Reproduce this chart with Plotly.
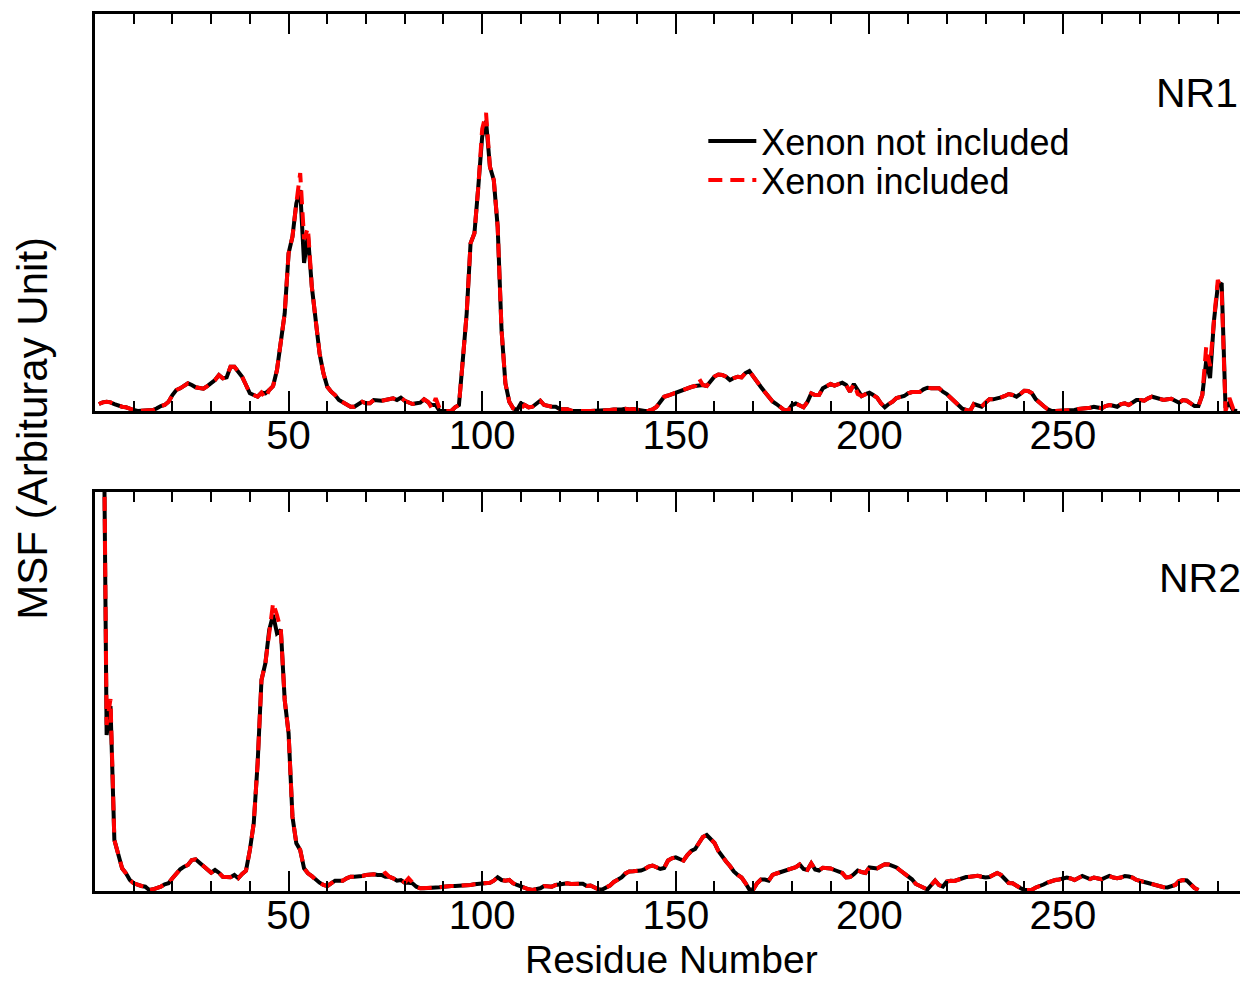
import plotly.graph_objects as go

# ---------------- data (MSF, arbitrary units) ----------------
nr1_residues = list(range(1, 296))
nr1_no_xenon = [
    7, 8.7, 9.3, 8.7, 7, 5.3, 4.3, 3.7, 2, 1,
    0, 0.3, 0, 0, 1, 2.7, 5, 6, 9.3, 16,
    21, 22.7, 25, 27.7, 26, 23.7, 23, 22.3, 25, 28.3,
    31, 36, 32.7, 33.7, 44.3, 44.3, 39.3, 34.3, 26, 17.7,
    16, 14.3, 18.3, 17.7, 21, 25, 41, 71, 97.7, 157.7,
    174.3, 207.7, 221, 148, 176, 124.3, 87.7, 57.7, 37.7, 24.3,
    19.3, 16, 11, 8.7, 6, 4.3, 4.3, 7, 9.3, 7.7,
    7.7, 11, 10.3, 10.3, 11, 12, 12.7, 11, 13.3, 10.3,
    8.3, 7, 7.7, 8.3, 11.7, 9.3, 6, 6, 0, 0,
    0, 0, 3.7, 6, 51, 97.7, 167.7, 177.7, 224.3, 274.3,
    290, 244.3, 231, 184.3, 81, 27.7, 9.3, 2.7, 1, 7.7,
    6, 3.7, 4.3, 7.7, 10.3, 6, 5, 4.3, 4.3, 2,
    1.7, 1.7, 0.3, 0, 0, 0, 0, 0, 0, 0.3,
    0.5, 1, 1, 1.5, 1.3, 1.5, 2.3, 1.5, 2, 1,
    0.3, 0, 0.3, 1.5, 4, 9, 14.3, 15.5, 17, 19,
    20.5, 22, 23, 24, 25, 26, 26, 25, 30, 34.5,
    36.5, 36, 34.3, 31, 33, 34.3, 33.7, 38, 40, 34.3,
    30, 24, 19, 14, 9.5, 7, 4, 1, 0.3, 6,
    7.5, 5.5, 3.7, 9, 17.7, 16, 16, 22.7, 25, 27,
    25.5, 26.5, 28.3, 26, 19.3, 27, 20, 15, 17, 18.3,
    16, 13.3, 7.7, 3.7, 7, 9.3, 13, 14.3, 15, 17.7,
    19, 19, 19, 21.7, 23.3, 22.7, 23, 22.7, 19.3, 17,
    13.3, 9.7, 5, 2.3, 1, 0, 7, 5.7, 4.3, 8.3,
    11.7, 11.7, 12.3, 13.7, 15, 17, 16, 14.3, 17, 20.3,
    20, 17.7, 11.7, 7.7, 5, 2, 0.3, 0, 0, 0,
    0, 0.3, 1, 2, 2.3, 2.7, 3.3, 4.3, 3.7, 2.7,
    5, 6, 5.3, 4.3, 7, 7.7, 6, 8.3, 11, 11,
    10.3, 12.7, 14.3, 13.3, 11.7, 11, 11.7, 12.3, 10.3, 8.3,
    11, 10.3, 7.7, 5, 5, 16, 50, 33, 90, 125,
    128, 3, 8, 0.5, 0,
]
nr1_xenon = [
    7, 8.7, 9.3, 8.7, 7, 5.3, 4.3, 3.7, 2, 1,
    0, 0.3, 0, 0, 1, 2.7, 5, 6, 9.3, 16,
    21, 22.7, 25, 27.7, 26, 23.7, 23, 22.3, 25, 28.3,
    31, 36, 32.7, 33.7, 44.3, 44.3, 39.3, 34.3, 26, 17.7,
    16, 14.3, 18.3, 12.7, 21, 25, 41, 71, 97.7, 157.7,
    174.3, 207.7, 238, 172, 183, 124.3, 87.7, 57.7, 37.7, 24.3,
    19.3, 16, 11, 8.7, 6, 4.3, 4.3, 7, 9.3, 7.7,
    7.7, 11, 10.3, 10.3, 11, 12, 12.7, 11, 13.3, 10.3,
    8.3, 7, 7.7, 8.3, 11.7, 9.3, 2.7, 12.7, 2.7, 0,
    0, 0, 3.7, 6, 51, 97.7, 167.7, 177.7, 224.3, 282,
    298, 244.3, 231, 184.3, 81, 27.7, 9.3, 2.7, 1, 2.7,
    6, 3.7, 4.3, 7.7, 10.3, 6, 5, 4.3, 4.3, 2,
    1.7, 1.7, 0.3, 0, 0, 0, 0, 0, 0, 0.3,
    0.5, 1, 1, 1.5, 1.3, 1.5, 2.3, 1.5, 2, 1,
    0.3, 0, 0.3, 1.5, 4, 9, 14.3, 15.5, 17, 19,
    20.5, 22, 23, 24, 25, 32.7, 26, 25, 30, 34.5,
    36.5, 36, 34.3, 31, 33, 34.3, 33.7, 38, 40, 34.3,
    30, 24, 19, 14, 9.5, 7, 4, 1, 0.3, 6,
    7.5, 5.5, 3.7, 9, 17.7, 16, 16, 22.7, 25, 27,
    25.5, 26.5, 28.3, 26, 19.3, 27, 17, 15, 17, 18.3,
    16, 13.3, 7.7, 3.7, 7, 9.3, 13, 14.3, 15, 17.7,
    19, 19, 19, 21.7, 23.3, 22.7, 23, 22.7, 19.3, 17,
    13.3, 9.7, 5, 2.3, 1, 0, 7, 5.7, 4.3, 8.3,
    11.7, 11.7, 12.3, 13.7, 15, 17, 16, 14.3, 17, 20.3,
    20, 17.7, 11.7, 7.7, 5, 2, 0.3, 0, 0, 0,
    0, 0.3, 1, 2, 2.3, 2.7, 3.3, 4.3, 3.7, 2.7,
    5, 6, 5.3, 4.3, 7, 7.7, 6, 8.3, 11, 11,
    10.3, 12.7, 14.3, 13.3, 11.7, 11, 11.7, 12.3, 10.3, 8.3,
    11, 10.3, 7.7, 5, 5, 16, 64, 45, 90, 131,
    120, 0, 13, 2, 0.5,
]

nr2_residues = list(range(1, 286))
nr2_no_xenon = [
    900, 600, 156, 185, 51, 36, 22.7, 17.7, 11, 7.7,
    6, 5, 4.3, 1, 1.7, 2.7, 4.3, 6.7, 7.7, 12.7,
    17.7, 21.7, 24.3, 26, 31, 31.7, 28.3, 25, 21.7, 18.3,
    21, 18.3, 14.3, 13.7, 13.7, 16, 12.7, 17, 20.3, 41,
    67.7, 127.7, 211, 227.7, 261, 276, 257.7, 261, 191, 157.7,
    74.3, 47.7, 41, 22.7, 17.7, 15, 11, 8.3, 6, 5,
    7.7, 10.3, 10.3, 10.3, 12.7, 14.3, 14.3, 14.3, 15, 16,
    16.7, 16.7, 16, 16, 14.3, 14.3, 12.7, 10.3, 11, 8.3,
    8.3, 7.7, 4.3, 2.7, 2.7, 2.7, 2.7, 2.7, 3.7, 4.3,
    5, 5, 5, 5, 5.7, 5.7, 6, 6.7, 7, 8.3,
    8.3, 8.3, 10.3, 13.7, 11, 10.3, 11, 7.7, 6, 4.3,
    2.7, 1.7, 1, 1.7, 2.7, 5, 4.3, 4.3, 6, 6.7,
    7, 7.7, 7, 6.7, 7.3, 7.3, 5, 5.5, 4, 1.7,
    1.5, 3, 5.5, 9, 11.5, 13.5, 17.5, 19.5, 19.7, 20,
    20.5, 22, 24.5, 25.5, 23.3, 22, 23, 30.5, 32.7, 33.7,
    32, 30.5, 36, 40, 42, 48, 54, 56, 52.5, 48,
    40, 34, 29.5, 25, 19.5, 16, 13.5, 8, 1.5, 1.5,
    7.7, 11.5, 11.5, 10.3, 16, 17.5, 18.7, 20.5, 21.5, 22.7,
    23.8, 26.5, 22, 21, 27.7, 21.5, 20.5, 23.3, 23.3, 22.5,
    21, 19.7, 18, 13.5, 14, 16.7, 20.5, 19, 18, 23.5,
    22.7, 22.5, 24.7, 26.8, 26.5, 25.5, 23.5, 20.5, 17.7, 14,
    11.7, 7, 5, 3.7, 1.5, 6, 10.5, 6, 4.5, 9.5,
    10.3, 10, 11.5, 13.5, 14, 14.3, 14.5, 15.3, 14.3, 13.5,
    14, 15.5, 18, 16, 11.5, 8, 7.7, 5, 3, 1,
    1, 1.3, 3.5, 4.5, 6.5, 8.5, 10.3, 11, 11.5, 12.5,
    13.5, 12.5, 11, 13, 15, 13.5, 12, 13.5, 12.5, 11.7,
    13.5, 15, 13.5, 12.7, 13.5, 15, 14.5, 13.3, 11, 9.5,
    9, 8, 6.7, 5.5, 4, 3.7, 3.5, 4.3, 6, 10,
    11, 10.5, 7, 3, 1,
]
nr2_xenon = [
    900, 600, 166, 192, 51, 36, 22.7, 17.7, 11, 7.7,
    6, 5, 4.3, 1, 1.7, 2.7, 4.3, 6.7, 7.7, 12.7,
    17.7, 21.7, 24.3, 26, 31, 31.7, 28.3, 25, 21.7, 18.3,
    21, 18.3, 14.3, 13.7, 13.7, 16, 12.7, 17, 20.3, 41,
    67.7, 127.7, 211, 227.7, 261, 288, 276, 261, 191, 157.7,
    74.3, 47.7, 41, 22.7, 17.7, 15, 11, 8.3, 6, 5,
    7.7, 10.3, 10.3, 10.3, 12.7, 14.3, 14.3, 14.3, 15, 16,
    16.7, 16.7, 16, 16, 18, 14.3, 12.7, 10.3, 11, 8.3,
    12.7, 7.7, 4.3, 2.7, 2.7, 2.7, 2.7, 2.7, 3.7, 4.3,
    5, 5, 5, 5, 5.7, 5.7, 6, 6.7, 7, 8.3,
    8.3, 8.3, 10.3, 13.7, 11, 10.3, 11, 7.7, 6, 4.3,
    2.7, 1.7, 1, 1.7, 2.7, 5, 4.3, 4.3, 6, 6.7,
    7, 7.7, 7, 6.7, 7.3, 7.3, 5, 5.5, 4, 1.7,
    1.5, 3, 5.5, 9, 11.5, 13.5, 17.5, 19.5, 19.7, 20,
    20.5, 22, 24.5, 25.5, 23.3, 22, 23, 30.5, 32.7, 33.7,
    32, 30.5, 36, 40, 42, 48, 54, 56, 52.5, 48,
    40, 34, 29.5, 25, 19.5, 16, 13.5, 8, 1.5, 1.5,
    7.7, 11.5, 11.5, 10.3, 16, 17.5, 18.7, 20.5, 21.5, 22.7,
    23.8, 26.5, 22, 21, 27.7, 21.5, 20.5, 23.3, 23.3, 22.5,
    21, 19.7, 18, 13.5, 14, 16.7, 20.5, 19, 18, 23.5,
    22.7, 22.5, 24.7, 26.8, 26.5, 25.5, 23.5, 20.5, 17.7, 14,
    11.7, 7, 5, 3.7, 1.5, 6, 10.5, 6, 4.5, 9.5,
    10.3, 10, 11.5, 13.5, 14, 14.3, 14.5, 15.3, 14.3, 13.5,
    14, 15.5, 18, 16, 11.5, 8, 7.7, 5, 3, 1,
    1, 1.3, 3.5, 4.5, 6.5, 8.5, 10.3, 11, 11.5, 12.5,
    13.5, 12.5, 11, 13, 15, 13.5, 12, 13.5, 12.5, 11.7,
    13.5, 15, 13.5, 12.7, 13.5, 15, 14.5, 13.3, 11, 9.5,
    9, 8, 6.7, 5.5, 4, 3.7, 3.5, 4.3, 6, 10,
    11, 10.5, 7, 3, 1,
]

major_ticks = [50, 100, 150, 200, 250]
series_names = ["Xenon not included", "Xenon included"]
panel_labels = ["NR1", "NR2"]

# ---------------- figure ----------------
FONT = "Liberation Sans, Arial, Helvetica, sans-serif"
black_line = dict(color="black", width=4)
red_line = dict(color="#ff0000", width=4, dash="14px,8px")

fig = go.Figure()
fig.add_trace(go.Scatter(x=nr1_residues, y=nr1_no_xenon, mode="lines", line=black_line,
                         name=series_names[0], legend="legend", xaxis="x", yaxis="y"))
fig.add_trace(go.Scatter(x=nr1_residues, y=nr1_xenon, mode="lines", line=red_line,
                         name=series_names[1], legend="legend2", xaxis="x", yaxis="y"))
fig.add_trace(go.Scatter(x=nr2_residues, y=nr2_no_xenon, mode="lines", line=black_line,
                         name=series_names[0], showlegend=False, xaxis="x2", yaxis="y2"))
fig.add_trace(go.Scatter(x=nr2_residues, y=nr2_xenon, mode="lines", line=red_line,
                         name=series_names[1], showlegend=False, xaxis="x2", yaxis="y2"))

xax = dict(
    domain=[0, 1], range=[0, 297.8],
    tickmode="array", tickvals=major_ticks,
    ticks="inside", ticklen=20, tickwidth=2, tickcolor="black",
    minor=dict(ticks="inside", ticklen=10, tickwidth=2, tickcolor="black",
               tickmode="linear", tick0=0, dtick=10, showgrid=False),
    showline=True, linewidth=3, linecolor="black", mirror="ticks",
    showgrid=False, zeroline=False,
    tickfont=dict(family=FONT, size=40, color="black"),
    ticklabelstandoff=-13,
)
yax = dict(showline=True, linewidth=3, linecolor="black", showticklabels=False,
           ticks="", showgrid=False, zeroline=False)

# the page body adds an 8px offset, so the figure is 8px smaller and margins compensate
fig.update_layout(
    width=1240, height=973,
    margin=dict(l=87, r=0, t=6, b=90),
    paper_bgcolor="white", plot_bgcolor="white",
    xaxis=dict(xax, anchor="y"),
    yaxis=dict(yax, domain=[0.5473, 1.0], range=[0, 397], anchor="x"),
    xaxis2=dict(xax, anchor="y2"),
    yaxis2=dict(yax, domain=[0.0, 0.455], range=[0, 399], anchor="x2"),
    legend=dict(x=0.5276, y=0.855, xanchor="left", yanchor="middle",
                font=dict(family=FONT, size=36, color="black"),
                bgcolor="rgba(0,0,0,0)", itemwidth=48),
    legend2=dict(x=0.5276, y=0.8107, xanchor="left", yanchor="middle",
                 font=dict(family=FONT, size=36, color="black"),
                 bgcolor="rgba(0,0,0,0)", itemwidth=48),
    annotations=[
        dict(text=panel_labels[0], xref="paper", yref="paper", x=0.993, y=0.91,
             xanchor="right", yanchor="middle", showarrow=False,
             font=dict(family=FONT, size=41, color="black")),
        dict(text=panel_labels[1], xref="paper", yref="paper", x=0.996, y=0.357,
             xanchor="right", yanchor="middle", showarrow=False,
             font=dict(family=FONT, size=41, color="black")),
        dict(text="MSF (Arbituray Unit)", xref="paper", yref="paper", x=-0.054, y=0.528,
             xanchor="center", yanchor="middle", textangle=-90, showarrow=False,
             font=dict(family=FONT, size=42, color="black")),
        dict(text="Residue Number", xref="paper", yref="paper", x=0.5, y=-0.078,
             xanchor="center", yanchor="middle", showarrow=False,
             font=dict(family=FONT, size=39, color="black")),
    ],
)

fig.write_html("out.html")
